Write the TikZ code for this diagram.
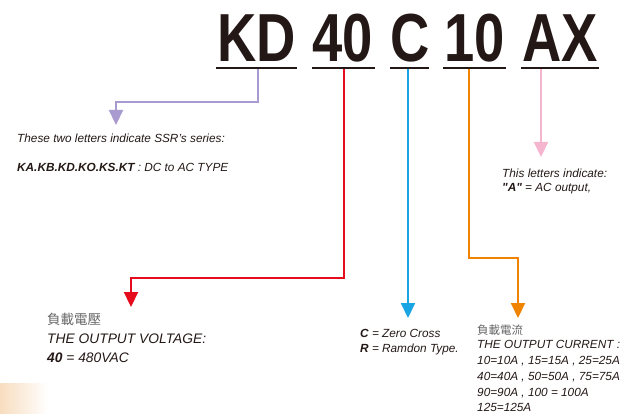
\documentclass[tikz,border=0pt]{standalone}
\usepackage{fontspec}
\setmainfont{Liberation Sans}
\newfontfamily\cjk{Noto Sans CJK TC}
\usetikzlibrary{arrows.meta}

\definecolor{inkdark}{HTML}{231815}
\definecolor{lilac}{HTML}{A99BD0}
\definecolor{kred}{HTML}{E50C1E}
\definecolor{kblue}{HTML}{19A4E4}
\definecolor{korange}{HTML}{F08300}
\definecolor{kpink}{HTML}{F5B5CE}
\definecolor{cjkgray}{HTML}{666666}
\definecolor{peach}{HTML}{F8DDBF}

\tikzset{
  code/.style={anchor=base, inner sep=0pt, text=inkdark,
    font=\fontsize{68}{68}\selectfont\bfseries},
  bar/.style={line width=2.2pt, draw=inkdark},
  link/.style={line width=2.2pt, -{Triangle[width=14pt,length=15pt]}},
  note/.style={anchor=base west, inner sep=0pt, text=inkdark,
    font=\fontsize{11.8}{14}\selectfont\itshape},
  bignote/.style={note, font=\fontsize{13.8}{16}\selectfont\itshape},
  cjknote/.style={anchor=base west, inner sep=0pt, text=cjkgray,
    font=\fontsize{11.5}{14}\selectfont\cjk}
}

\begin{document}
\begin{tikzpicture}[x=1pt, y=-1pt]
        \useasboundingbox (0,0) rectangle (621,414);

        % Fleck unten links
        \shade[left color=peach, right color=white] (0,383) rectangle (48,414);

        % Typenschluessel
        \node[code] (kd)    at (257,62) {\scalebox{0.8}[1]{KD}};
        \node[code] (forty) at (343,62) {\scalebox{0.8}[1]{40}};
        \node[code] (zc)    at (410,62) {\scalebox{0.8}[1]{C}};
        \node[code] (amps)  at (475,62) {\scalebox{0.8}[1]{10}};
        \node[code] (ax)    at (560,62) {\scalebox{0.8}[1]{AX}};

        % Unterstriche
        \draw[bar] (216,68) -- (297,68);
        \draw[bar] (312,68) -- (375,68);
        \draw[bar] (390,68) -- (429,68);
        \draw[bar] (443,68) -- (506,68);
        \draw[bar] (521,68) -- (599,68);

        \coordinate (kd-u)    at (258,69);
        \coordinate (forty-u) at (344,69);
        \coordinate (zc-u)    at (408,69);
        \coordinate (amps-u)  at (469,69);
        \coordinate (ax-u)    at (541,69);

        \coordinate (kd-tip)    at (116,125);
        \coordinate (forty-tip) at (131,307);
        \coordinate (zc-tip)    at (408,318);
        \coordinate (amps-tip)  at (518,318);
        \coordinate (ax-tip)    at (541,157);

        % Verbinder
        \draw[link, lilac]   (kd-u) -- (258,102) -| (kd-tip);
        \draw[link, kred]    (forty-u) -- (344,278) -| (forty-tip);
        \draw[link, kblue]   (zc-u) -- (zc-tip);
        \draw[link, korange] (amps-u) -- (469,258) -| (amps-tip);
        \draw[link, kpink]   (ax-u) -- (ax-tip);

        % Serie
        \node[note] (series) at (17,142.5) {These two letters indicate SSR's series:};
        \node[note] (types)  at (17,171.5) {\textbf{KA.KB.KD.KO.KS.KT} : DC to AC TYPE};

        % Ausgang
        \node[note] (acout) at (502,178) {This letters indicate:};
        \node[note] (acval) at (502,192) {\textbf{\textquotedbl A\textquotedbl} = AC output,};

        % Spannung
        \node[cjknote, font=\fontsize{13.5}{14}\selectfont\cjk] (volt-zh) at (47,324) {負載電壓};
        \node[bignote] (volt)  at (47,343) {THE OUTPUT VOLTAGE:};
        \node[bignote] (volt2) at (47,362) {\textbf{40} = 480VAC};

        % Nulldurchgang
        \node[note] (cross)  at (360,337.5) {\textbf{C} = Zero Cross};
        \node[note] (random) at (360,352.5) {\textbf{R} = Ramdon Type.};

        % Strom
        \node[cjknote] (curr-zh) at (477,334) {負載電流};
        \node[note] (curr)  at (477,348) {THE OUTPUT CURRENT :};
        \node[note] (curr1) at (477,364.5) {10=10A , 15=15A , 25=25A};
        \node[note] (curr2) at (477,380) {40=40A , 50=50A , 75=75A};
        \node[note] (curr3) at (477,396) {90=90A , 100 = 100A};
        \node[note] (curr4) at (477,411) {125=125A};

    \end{tikzpicture}
\end{document}
